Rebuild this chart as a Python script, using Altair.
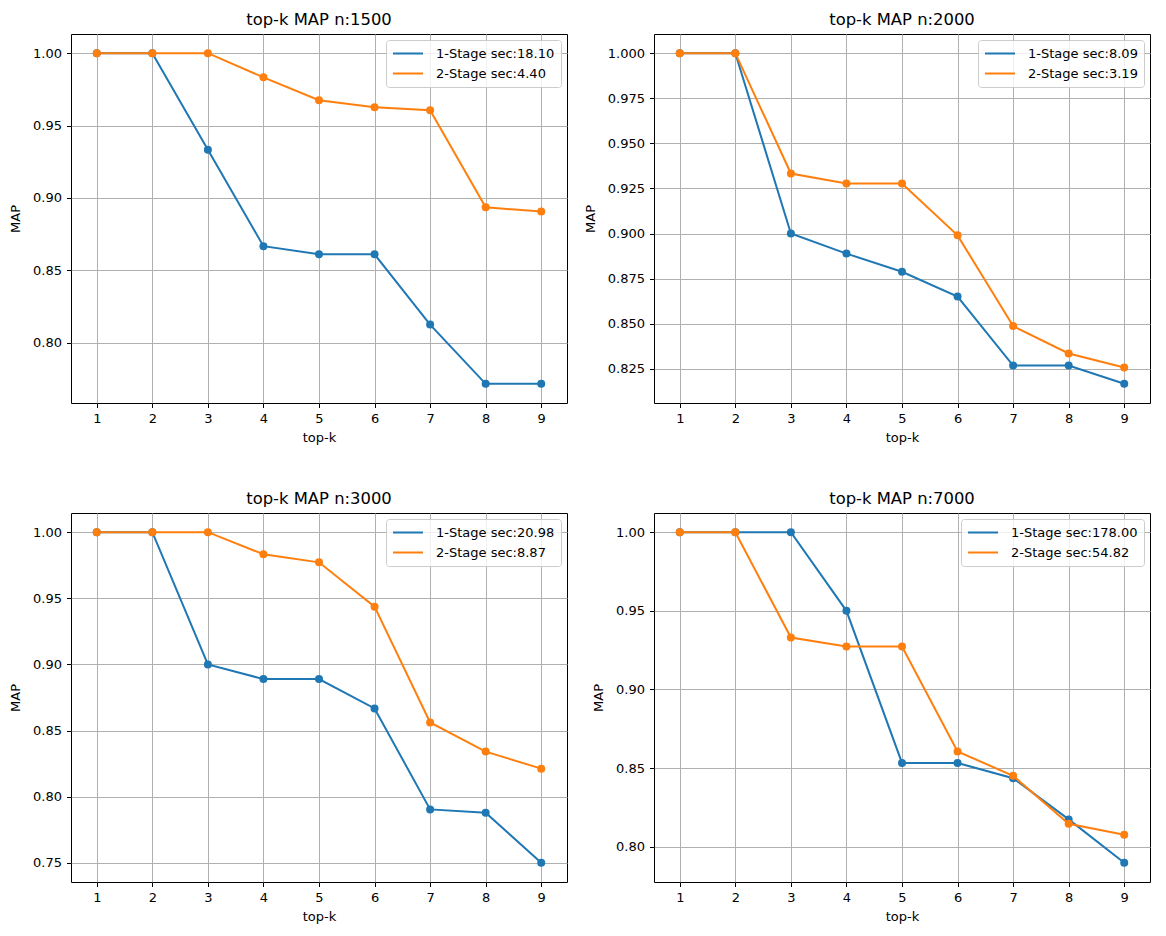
import altair as alt
import pandas as pd

# ---- data ----
topk = [1, 2, 3, 4, 5, 6, 7, 8, 9]

n_values = [1500, 2000, 3000, 7000]
stage1_sec = ["18.10", "8.09", "20.98", "178.00"]
stage2_sec = ["4.40", "3.19", "8.87", "54.82"]

map_1stage_1500 = [1.0, 1.0, 0.9333, 0.8667, 0.8611, 0.8611, 0.8125, 0.7716, 0.7716]
map_2stage_1500 = [1.0, 1.0, 1.0, 0.9833, 0.9675, 0.9627, 0.9606, 0.8935, 0.8907]

map_1stage_2000 = [1.0, 1.0, 0.9000, 0.8889, 0.8788, 0.8651, 0.8268, 0.8268, 0.8167]
map_2stage_2000 = [1.0, 1.0, 0.9333, 0.9278, 0.9278, 0.8990, 0.8487, 0.8335, 0.8257]

map_1stage_3000 = [1.0, 1.0, 0.9000, 0.8889, 0.8889, 0.8667, 0.7904, 0.7879, 0.7500]
map_2stage_3000 = [1.0, 1.0, 1.0, 0.9833, 0.9772, 0.9437, 0.8561, 0.8341, 0.8212]

map_1stage_7000 = [1.0, 1.0, 1.0, 0.9500, 0.8533, 0.8533, 0.8436, 0.8174, 0.7898]
map_2stage_7000 = [1.0, 1.0, 0.9330, 0.9273, 0.9273, 0.8606, 0.8451, 0.8146, 0.8076]

ytick_1500 = [0.80, 0.85, 0.90, 0.95, 1.00]
ytick_2000 = [0.825, 0.850, 0.875, 0.900, 0.925, 0.950, 0.975, 1.000]
ytick_3000 = [0.75, 0.80, 0.85, 0.90, 0.95, 1.00]
ytick_7000 = [0.80, 0.85, 0.90, 0.95, 1.00]

# ---- style ----
BLUE = "#1f77b4"
ORANGE = "#ff7f0e"
FONT = "DejaVu Sans"
MARGIN = 0.058
PANEL_W = 496
PANEL_H = 369

panels = [
    (n_values[0], stage1_sec[0], stage2_sec[0], map_1stage_1500, map_2stage_1500, ytick_1500, ".2f"),
    (n_values[1], stage1_sec[1], stage2_sec[1], map_1stage_2000, map_2stage_2000, ytick_2000, ".3f"),
    (n_values[2], stage1_sec[2], stage2_sec[2], map_1stage_3000, map_2stage_3000, ytick_3000, ".2f"),
    (n_values[3], stage1_sec[3], stage2_sec[3], map_1stage_7000, map_2stage_7000, ytick_7000, ".2f"),
]

xr = max(topk) - min(topk)
x_domain = [min(topk) - MARGIN * xr, max(topk) + MARGIN * xr]


def make_panel(n, t1, t2, s1, s2, yticks, fmt):
    lab1 = f"1-Stage sec:{t1}"
    lab2 = f"2-Stage sec:{t2}"
    df = pd.DataFrame({
        "k": topk + topk,
        "MAP": s1 + s2,
        "stage": [1] * len(topk) + [2] * len(topk),
        "series": [lab1] * len(topk) + [lab2] * len(topk),
    })
    lo, hi = min(s1 + s2), max(s1 + s2)
    yr = hi - lo
    y_domain = [lo - MARGIN * yr, hi + MARGIN * yr]

    x = alt.X("k:Q", scale=alt.Scale(domain=x_domain, nice=False, zero=False),
              axis=alt.Axis(values=topk, format="d", title="top-k", labelAngle=0))
    y = alt.Y("MAP:Q", scale=alt.Scale(domain=y_domain, nice=False, zero=False),
              axis=alt.Axis(values=yticks, format=fmt, title="MAP"))
    color = alt.Color("series:N",
                      scale=alt.Scale(domain=[lab1, lab2], range=[BLUE, ORANGE]),
                      legend=alt.Legend(title=None, orient="top-right"))

    base = alt.Chart(df).encode(x=x, y=y)
    line1 = base.transform_filter("datum.stage == 1").mark_line(strokeWidth=2).encode(color=color)
    pts1 = base.transform_filter("datum.stage == 1").mark_point(
        filled=True, size=64, opacity=1, color=BLUE)
    line2 = base.transform_filter("datum.stage == 2").mark_line(strokeWidth=2).encode(color=color)
    pts2 = base.transform_filter("datum.stage == 2").mark_point(
        filled=True, size=64, opacity=1, color=ORANGE)

    return alt.layer(line1, pts1, line2, pts2).properties(
        width=PANEL_W, height=PANEL_H,
        title=alt.TitleParams(f"top-k MAP n:{n}", fontSize=16.4, font=FONT,
                              fontWeight="normal", color="black", anchor="middle", offset=6),
    )


charts = [make_panel(*p) for p in panels]

chart = alt.concat(*charts, columns=2, spacing={"row": 45, "column": 15}).resolve_scale(
    x="independent", y="independent", color="independent"
).resolve_legend(color="independent").properties(
    padding={"left": 9, "top": 11, "right": 5, "bottom": 5}
).configure_axis(
    grid=True, gridColor="#b0b0b0", gridWidth=1,
    domain=False,
    tickColor="black", tickSize=4.5, tickWidth=1,
    labelFont=FONT, labelFontSize=13, labelColor="black", labelPadding=5,
    titleFont=FONT, titleFontSize=13, titleFontWeight="normal", titleColor="black",
).configure_axisX(
    titlePadding=6
).configure_axisY(
    titlePadding=10
).configure_view(
    stroke="black", strokeWidth=1
).configure_legend(
    symbolType="stroke", symbolSize=900, symbolStrokeWidth=2,
    labelFont=FONT, labelFontSize=13, labelColor="black", labelOffset=12,
    fillColor="rgba(255,255,255,0.8)", strokeColor="#cccccc", cornerRadius=3,
    padding=6, offset=6, rowPadding=5, clipHeight=15,
)

chart.save("out.html", embed_options={"renderer": "svg", "actions": False})
